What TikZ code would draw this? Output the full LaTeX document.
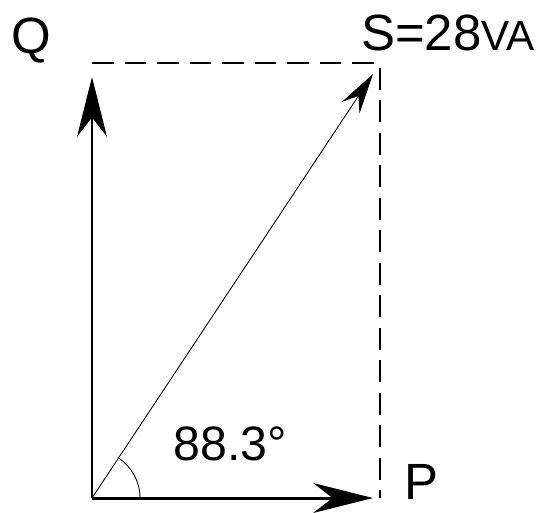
\documentclass[tikz,border=0pt]{standalone}
\usepackage{fontspec}
\setmainfont{Liberation Sans}
\usetikzlibrary{arrows.meta}

\begin{document}
\begin{tikzpicture}[x=0.02cm, y=-0.02cm,
  every node/.style={inner sep=0pt},
  big/.style={font=\fontsize{29}{30}\selectfont},
  mid/.style={font=\fontsize{27.5}{28}\selectfont},
  vec/.style={line width=1.7pt, -{Stealth[length=34pt, width=17pt, inset=11pt]}},
  res/.style={line width=0.5pt, -{Stealth[length=23pt, width=12pt, inset=8pt]}},
  guide/.style={line width=0.8pt, dash pattern=on 12.5pt off 6pt}]
  \useasboundingbox (0,0) rectangle (538,512);
  \coordinate (O)  at (92,498);
  \coordinate (Qt) at (92,63);
  \coordinate (Qe) at (92,77);
  \coordinate (Pc) at (380,498);
  \coordinate (Pe) at (373,498);
  \coordinate (Sc) at (380,63);
  \coordinate (Se) at (373,74);
  % power triangle
  \draw[guide] (Qt) -- (Sc) -- (Pc);
  \draw[vec] (O) -- (Qe);
  \draw[vec] (O) -- (Pe);
  \draw[res] (O) -- (Se);
  \draw[line width=0.5pt] (140,498) arc[start angle=0, end angle=56.4, radius=0.96cm];
  % labels
  \node[big] (Q) at (31,41) {Q};
  \node[big] (S) at (448,33) {S=28\fontsize{24}{24}\selectfont VA};
  \node[big] (P) at (421,482) {P};
  \node[mid] (ang) at (230,444) {88.3°};
\end{tikzpicture}
\end{document}
